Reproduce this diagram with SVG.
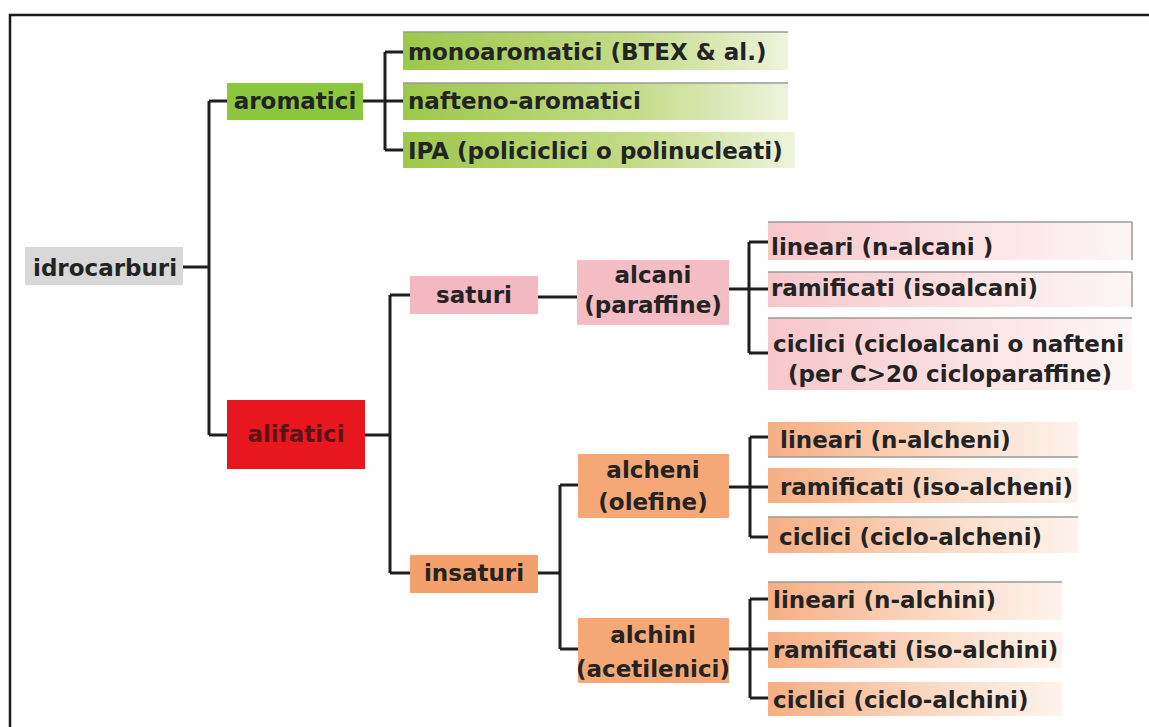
<svg xmlns="http://www.w3.org/2000/svg" width="1149" height="727" viewBox="0 0 1149 727">
<defs>
<linearGradient id="gGreen" x1="0" y1="0" x2="1" y2="0">
<stop offset="0" stop-color="#9cc84a"/><stop offset="0.6" stop-color="#c4db88"/><stop offset="1" stop-color="#eef3dc"/>
</linearGradient>
<linearGradient id="gPink" x1="0" y1="0" x2="1" y2="0">
<stop offset="0" stop-color="#f7c6cb"/><stop offset="0.6" stop-color="#fbe4e6"/><stop offset="1" stop-color="#fdf6f6"/>
</linearGradient>
<linearGradient id="gOrange" x1="0" y1="0" x2="1" y2="0">
<stop offset="0" stop-color="#f6ae82"/><stop offset="0.6" stop-color="#fbdcc8"/><stop offset="1" stop-color="#fdf3ec"/>
</linearGradient>
</defs>
<style>
text{font-family:"DejaVu Sans","Liberation Sans",sans-serif;font-weight:bold;font-size:23px;fill:#232323}
.c{text-anchor:middle}
.edge{fill:none;stroke:#1e1e1e;stroke-width:3}
.top{stroke:#9a9a9a;stroke-width:1.5}
</style>
<rect x="0" y="0" width="1149" height="727" fill="#ffffff"/>
<path d="M10,727 V15 H1149" fill="none" stroke="#1a1a1a" stroke-width="2.5"/>

<g id="connectors">
<path class="edge" d="M183,267 H209 M209,101 V435 M209,101 H227 M209,435 H227"/>
<path class="edge" d="M363,101 H403 M385,52 V150 M385,52 H403 M385,150 H403"/>
<path class="edge" d="M365,435 H390 M390,295 V573 M390,295 H410 M390,573 H410"/>
<path class="edge" d="M538,297 H578"/>
<path class="edge" d="M729,289 H768 M749,242 V353 M749,242 H768 M749,353 H768"/>
<path class="edge" d="M538,573 H560 M560,485 V649 M560,485 H578 M560,649 H578"/>
<path class="edge" d="M729,487 H768 M750,437 V537 M750,437 H768 M750,537 H768"/>
<path class="edge" d="M729,649 H768 M750,599 V698 M750,599 H768 M750,698 H768"/>
</g>

<g id="idrocarburi"><rect x="25" y="247" width="158" height="38" fill="#d8d8d8"/><text x="33" y="276">idrocarburi</text></g>
<g id="aromatici"><rect x="227" y="83" width="136" height="37" fill="#8cc63f"/><text x="295" y="109" class="c">aromatici</text></g>
<g id="monoaromatici"><rect x="403" y="32" width="385" height="38" fill="url(#gGreen)"/><line class="top" x1="403" y1="32" x2="788" y2="32"/><text x="408" y="60">monoaromatici (BTEX &amp; al.)</text></g>
<g id="nafteno"><rect x="403" y="83" width="385" height="37" fill="url(#gGreen)"/><line class="top" x1="403" y1="83" x2="788" y2="83"/><text x="408" y="109">nafteno-aromatici</text></g>
<g id="ipa"><rect x="403" y="132" width="392" height="36" fill="url(#gGreen)"/><text x="408" y="159">IPA (policiclici o polinucleati)</text></g>

<g id="alifatici"><rect x="227" y="400" width="138" height="69" fill="#e8171f"/><text x="296" y="442" class="c" style="fill:#5a1414">alifatici</text></g>

<g id="saturi"><rect x="410" y="276" width="128" height="38" fill="#f3b8c2"/><text x="474" y="303" class="c">saturi</text></g>
<g id="alcani"><rect x="577" y="260" width="152" height="65" fill="#f4bcc5"/><text x="653" y="283" class="c">alcani</text><text x="653" y="313" class="c">(paraffine)</text></g>
<g id="lin-alcani"><rect x="768" y="222" width="364" height="38" fill="url(#gPink)"/><line class="top" x1="768" y1="222" x2="1132" y2="222"/><line class="top" x1="1132" y1="222" x2="1132" y2="260"/><text x="771" y="255">lineari (n-alcani )</text></g>
<g id="ram-alcani"><rect x="768" y="272" width="364" height="35" fill="url(#gPink)"/><line class="top" x1="768" y1="272" x2="1132" y2="272"/><line class="top" x1="1132" y1="272" x2="1132" y2="307"/><text x="771" y="296">ramificati (isoalcani)</text></g>
<g id="cic-alcani"><rect x="768" y="318" width="364" height="72" fill="url(#gPink)"/><line class="top" x1="768" y1="318" x2="1132" y2="318"/><text x="773" y="352">ciclici (cicloalcani o nafteni</text><text x="950" y="382" class="c">(per C&gt;20 cicloparaffine)</text></g>

<g id="insaturi"><rect x="410" y="555" width="128" height="38" fill="#f4a06c"/><text x="474" y="581" class="c">insaturi</text></g>
<g id="alcheni"><rect x="578" y="454" width="151" height="64" fill="#f5a876"/><text x="653" y="478" class="c">alcheni</text><text x="653" y="510" class="c">(olefine)</text></g>
<g id="alchini"><rect x="578" y="618" width="151" height="65" fill="#f5a876"/><text x="653" y="643" class="c">alchini</text><text x="653" y="677" class="c">(acetilenici)</text></g>

<g id="lin-alcheni"><rect x="768" y="422" width="310" height="35" fill="url(#gOrange)"/><line class="top" x1="768" y1="457" x2="1078" y2="457"/><text x="780" y="448">lineari (n-alcheni)</text></g>
<g id="ram-alcheni"><rect x="768" y="468" width="310" height="35" fill="url(#gOrange)"/><text x="780" y="495">ramificati (iso-alcheni)</text></g>
<g id="cic-alcheni"><rect x="768" y="517" width="310" height="36" fill="url(#gOrange)"/><line class="top" x1="768" y1="517" x2="1078" y2="517"/><text x="779" y="545">ciclici (ciclo-alcheni)</text></g>

<g id="lin-alchini"><rect x="768" y="582" width="294" height="38" fill="url(#gOrange)"/><line class="top" x1="768" y1="582" x2="1062" y2="582"/><text x="773" y="608">lineari (n-alchini)</text></g>
<g id="ram-alchini"><rect x="768" y="632" width="294" height="36" fill="url(#gOrange)"/><text x="773" y="658">ramificati (iso-alchini)</text></g>
<g id="cic-alchini"><rect x="768" y="682" width="294" height="34" fill="url(#gOrange)"/><text x="773" y="708">ciclici (ciclo-alchini)</text></g>
</svg>
